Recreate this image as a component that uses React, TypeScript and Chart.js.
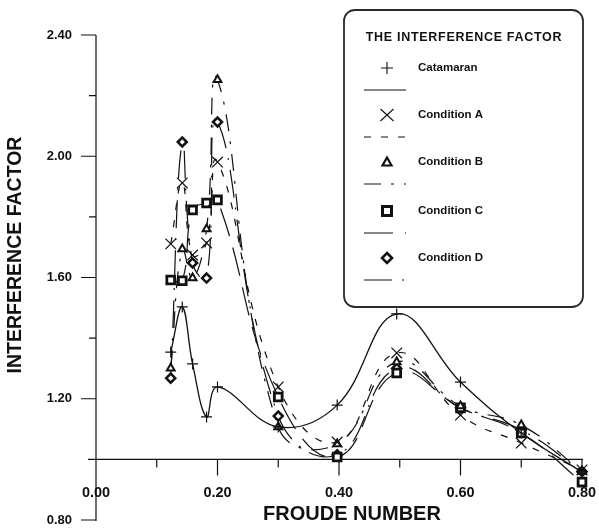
import { useEffect, useRef } from "react";
import { Chart, registerables } from "chart.js";

Chart.register(...registerables);

// Froude numbers at which the interference factor was evaluated
const FROUDE = [0.123, 0.142, 0.159, 0.182, 0.2, 0.3, 0.397, 0.495, 0.6, 0.7, 0.8];

// Interference factor per hull configuration
const CATAMARAN = [1.354, 1.503, 1.315, 1.14, 1.239, 1.107, 1.179, 1.48, 1.255, 1.087, 0.958];
const COND_A = [1.711, 1.912, 1.674, 1.714, 1.981, 1.239, 1.057, 1.351, 1.146, 1.054, 0.965];
const COND_B = [1.301, 1.694, 1.598, 1.76, 2.252, 1.107, 1.051, 1.321, 1.176, 1.113, 0.96];
const COND_C = [1.592, 1.589, 1.823, 1.846, 1.856, 1.206, 1.008, 1.285, 1.17, 1.087, 0.925];
const COND_D = [1.268, 2.047, 1.648, 1.598, 2.113, 1.143, 1.015, 1.3, 1.17, 1.097, 0.96];

const SERIES_NAMES = ["Catamaran", "Condition A", "Condition B", "Condition C", "Condition D"];

// Axis ticks
const Y_MAJOR = [0.8, 1.2, 1.6, 2.0, 2.4];
const Y_MINOR = [1.0, 1.4, 1.8, 2.2];
const X_MAJOR = [0.0, 0.2, 0.4, 0.6, 0.8];
const X_MINOR = [0.1, 0.3, 0.5, 0.7];
const X_AXIS_AT = 1.0;

const X_TITLE = "FROUDE NUMBER";
const Y_TITLE = "INTERFERENCE FACTOR";
const LEGEND_TITLE = "THE INTERFERENCE FACTOR";

const FONT = '"Liberation Sans", Arial, Helvetica, sans-serif';
const INK = "#111";

type Style = {
  pointStyle: string;
  radius: number;
  pointBorderWidth: number;
  dash: number[];
  tension: number;
};

const STYLES: Style[] = [
  { pointStyle: "cross", radius: 5.5, pointBorderWidth: 1.2, dash: [], tension: 0.4 },
  { pointStyle: "crossRot", radius: 7.5, pointBorderWidth: 1.2, dash: [7, 10], tension: 0.45 },
  { pointStyle: "triangle", radius: 4.5, pointBorderWidth: 2, dash: [17, 10, 3, 10], tension: 0.45 },
  { pointStyle: "rect", radius: 5.5, pointBorderWidth: 2.8, dash: [29, 12], tension: 0.45 },
  { pointStyle: "rectRot", radius: 4.5, pointBorderWidth: 2.5, dash: [28, 10, 2, 10], tension: 0.45 },
];

const SERIES_VALUES = [CATAMARAN, COND_A, COND_B, COND_C, COND_D];

function drawMarker(ctx: CanvasRenderingContext2D, kind: string, cx: number, cy: number) {
  ctx.save();
  ctx.strokeStyle = INK;
  ctx.fillStyle = "#fff";
  ctx.setLineDash([]);
  ctx.beginPath();
  if (kind === "cross") {
    ctx.lineWidth = 1.1;
    ctx.moveTo(cx - 6, cy);
    ctx.lineTo(cx + 6, cy);
    ctx.moveTo(cx, cy - 6);
    ctx.lineTo(cx, cy + 6);
    ctx.stroke();
  } else if (kind === "crossRot") {
    ctx.lineWidth = 1.1;
    ctx.moveTo(cx - 6.5, cy - 6);
    ctx.lineTo(cx + 6.5, cy + 6);
    ctx.moveTo(cx + 6.5, cy - 6);
    ctx.lineTo(cx - 6.5, cy + 6);
    ctx.stroke();
  } else if (kind === "triangle") {
    ctx.lineWidth = 2.2;
    ctx.moveTo(cx, cy - 4.5);
    ctx.lineTo(cx + 4.5, cy + 3.5);
    ctx.lineTo(cx - 4.5, cy + 3.5);
    ctx.closePath();
    ctx.fill();
    ctx.stroke();
  } else if (kind === "rect") {
    ctx.lineWidth = 3;
    ctx.rect(cx - 4.5, cy - 4.5, 9, 9);
    ctx.fill();
    ctx.stroke();
  } else {
    ctx.lineWidth = 2.6;
    ctx.moveTo(cx, cy - 5);
    ctx.lineTo(cx + 5, cy);
    ctx.lineTo(cx, cy + 5);
    ctx.lineTo(cx - 5, cy);
    ctx.closePath();
    ctx.fill();
    ctx.stroke();
  }
  ctx.restore();
}

const axesPlugin = {
  id: "froudeAxes",
  beforeDatasetsDraw(chart: any) {
    const { ctx } = chart;
    const xs = chart.scales.x;
    const ys = chart.scales.y;
    const x0 = xs.getPixelForValue(0);
    const xEnd = xs.getPixelForValue(0.8);
    const yTop = ys.getPixelForValue(2.4);
    const yBot = ys.getPixelForValue(0.8);
    const yAxisRow = ys.getPixelForValue(X_AXIS_AT);

    ctx.save();
    ctx.strokeStyle = INK;
    ctx.lineWidth = 1.2;
    ctx.beginPath();
    ctx.moveTo(x0, yTop);
    ctx.lineTo(x0, yBot + 1);
    ctx.moveTo(x0 - 8, yAxisRow);
    ctx.lineTo(xEnd + 1, yAxisRow);
    // y ticks
    Y_MAJOR.forEach((v) => {
      const p = ys.getPixelForValue(v);
      ctx.moveTo(x0 - 15, p);
      ctx.lineTo(x0, p);
    });
    Y_MINOR.forEach((v) => {
      const p = ys.getPixelForValue(v);
      ctx.moveTo(x0 - 7, p);
      ctx.lineTo(x0, p);
    });
    // x ticks hang below the axis row
    X_MAJOR.forEach((v) => {
      const p = xs.getPixelForValue(v);
      ctx.moveTo(p, yAxisRow);
      ctx.lineTo(p, yAxisRow + 16);
    });
    X_MINOR.forEach((v) => {
      const p = xs.getPixelForValue(v);
      ctx.moveTo(p, yAxisRow);
      ctx.lineTo(p, yAxisRow + 8);
    });
    ctx.stroke();

    ctx.fillStyle = INK;
    ctx.font = `bold 13px ${FONT}`;
    ctx.textAlign = "right";
    ctx.textBaseline = "middle";
    Y_MAJOR.forEach((v) => {
      ctx.fillText(v.toFixed(2), x0 - 24, ys.getPixelForValue(v));
    });
    ctx.font = `bold 14.5px ${FONT}`;
    ctx.textAlign = "center";
    X_MAJOR.forEach((v) => {
      ctx.fillText(v.toFixed(2), xs.getPixelForValue(v), yAxisRow + 34);
    });

    ctx.font = `bold 20px ${FONT}`;
    ctx.fillText(X_TITLE, 352, 514);
    ctx.save();
    ctx.translate(16, 255);
    ctx.rotate(-Math.PI / 2);
    ctx.font = `bold 19.5px ${FONT}`;
    ctx.fillText(Y_TITLE, 0, 0);
    ctx.restore();
    ctx.restore();
  },
};

const legendPlugin = {
  id: "interferenceLegend",
  afterDraw(chart: any) {
    const { ctx } = chart;
    const left = 344;
    const top = 10;
    const w = 239;
    const h = 297;
    ctx.save();
    ctx.beginPath();
    ctx.roundRect(left, top, w, h, 11);
    ctx.fillStyle = "#fff";
    ctx.fill();
    ctx.strokeStyle = "#2a2a2a";
    ctx.lineWidth = 1.8;
    ctx.stroke();

    ctx.fillStyle = INK;
    ctx.textBaseline = "middle";
    ctx.textAlign = "center";
    ctx.font = `bold 12.5px ${FONT}`;
    (ctx as any).letterSpacing = "0.7px";
    ctx.fillText(LEGEND_TITLE, 464, 38);
    (ctx as any).letterSpacing = "0px";

    const rows = [68, 115, 162, 211, 258];
    SERIES_NAMES.forEach((name, i) => {
      const cy = rows[i];
      drawMarker(ctx, STYLES[i].pointStyle, 387, cy);
      ctx.fillStyle = INK;
      ctx.textAlign = "left";
      ctx.font = `bold 11.5px ${FONT}`;
      ctx.fillText(name, 418, cy);
      ctx.beginPath();
      ctx.strokeStyle = INK;
      ctx.lineWidth = 1.1;
      ctx.setLineDash(STYLES[i].dash);
      ctx.moveTo(364, cy + 22);
      ctx.lineTo(406, cy + 22);
      ctx.stroke();
      ctx.setLineDash([]);
    });
    ctx.restore();
  },
};

export default function App() {
  const canvasRef = useRef<HTMLCanvasElement | null>(null);

  useEffect(() => {
    const canvas = canvasRef.current;
    if (!canvas) return;
    const datasets = SERIES_NAMES.map((name, i) => ({
      label: name,
      data: FROUDE.map((f, k) => ({ x: f, y: SERIES_VALUES[i][k] })),
      borderColor: INK,
      borderWidth: i === 0 ? 1.3 : 1.2,
      borderDash: STYLES[i].dash,
      tension: STYLES[i].tension,
      fill: false,
      clip: false as any,
      pointStyle: STYLES[i].pointStyle as any,
      pointRadius: STYLES[i].radius,
      pointHoverRadius: STYLES[i].radius,
      pointBorderWidth: STYLES[i].pointBorderWidth,
      pointBorderColor: INK,
      pointBackgroundColor: "#fff",
    }));

    const chart = new Chart(canvas, {
      type: "line",
      data: { datasets },
      options: {
        animation: false,
        responsive: false,
        devicePixelRatio: 1,
        layout: { padding: { left: 96, right: 17, top: 35, bottom: 10 } },
        plugins: { legend: { display: false }, tooltip: { enabled: false } },
        scales: {
          x: { type: "linear", min: 0, max: 0.8, display: false },
          y: { type: "linear", min: 0.8, max: 2.4, display: false },
        },
      },
      plugins: [axesPlugin, legendPlugin],
    });
    return () => chart.destroy();
  }, []);

  return (
    <canvas
      ref={canvasRef}
      width={599}
      height={530}
      style={{ position: "fixed", left: 0, top: 0, display: "block", background: "#fff" }}
    />
  );
}
